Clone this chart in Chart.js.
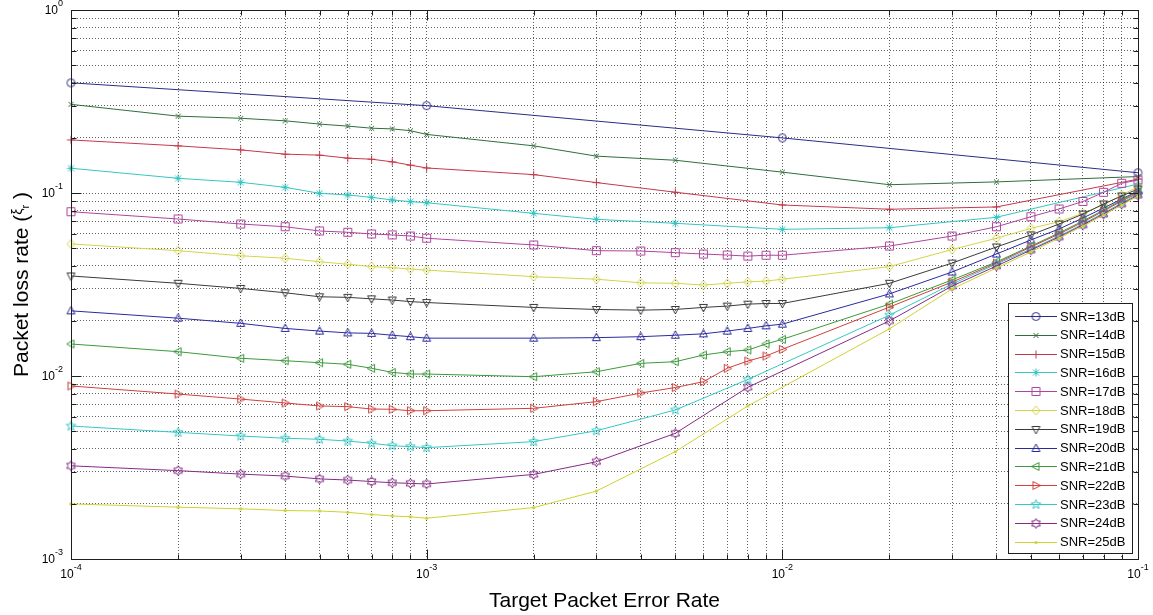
<!DOCTYPE html>
<html>
<head>
<meta charset="utf-8">
<script src="https://cdn.jsdelivr.net/npm/chart.js@4.4.1/dist/chart.umd.min.js"></script>
<style>
  html, body { margin: 0; padding: 0; background: #fff; }
  canvas { display: block; }
</style>
</head>
<body>
<canvas id="plr" width="1153" height="615"></canvas>
<script>
// Target packet error rate grids used by the simulated curves
const perSparse = [0.0001, 0.001, 0.01, 0.1];
const perMid = [0.0001, 0.0002, 0.0003, 0.0004, 0.0005, 0.0006, 0.0007, 0.0008, 0.0009, 0.001,
                0.002, 0.003, 0.005, 0.01, 0.02, 0.04, 0.1];
const perFull = [0.0001, 0.0002, 0.0003, 0.0004, 0.0005, 0.0006, 0.0007, 0.0008, 0.0009,
                 0.001, 0.002, 0.003, 0.004, 0.005, 0.006, 0.007, 0.008, 0.009,
                 0.01, 0.02, 0.03, 0.04, 0.05, 0.06, 0.07, 0.08, 0.09, 0.1];
const perHigh = [0.0001, 0.0002, 0.0003, 0.0004, 0.0005, 0.0006, 0.0007, 0.0008, 0.0009, 0.001,
                 0.002, 0.003, 0.005, 0.008, 0.02, 0.03, 0.04, 0.05, 0.06, 0.07, 0.08, 0.09, 0.1];

// Packet loss rate per SNR
const loss13 = [0.40, 0.30, 0.20, 0.129];
const loss14 = [0.305, 0.263, 0.256, 0.248, 0.238, 0.232, 0.226, 0.224, 0.219, 0.209,
                0.181, 0.159, 0.151, 0.130, 0.111, 0.115, 0.123];
const loss15 = [0.195, 0.181, 0.172, 0.163, 0.161, 0.155, 0.153, 0.148, 0.142, 0.137,
                0.126, 0.114, 0.101, 0.086, 0.0815, 0.0839, 0.119];
const loss16 = [0.1365, 0.1203, 0.1144, 0.1074, 0.0996, 0.0975, 0.0947, 0.0916, 0.0897, 0.0885,
                0.0774, 0.0718, 0.0683, 0.0633, 0.0646, 0.0737, 0.112];
const loss17 = [0.0790, 0.0721, 0.0677, 0.0654, 0.0620, 0.0610, 0.0597, 0.0590, 0.0582,
                0.0566, 0.0520, 0.0484, 0.0482, 0.0472, 0.0464, 0.0458, 0.0452, 0.0457,
                0.0457, 0.0513, 0.0582, 0.0654, 0.0742, 0.0818, 0.0899, 0.1009, 0.1130, 0.1178];
const loss18 = [0.0527, 0.0484, 0.0454, 0.0440, 0.0421, 0.0408, 0.0396, 0.0391, 0.0384,
                0.0379, 0.0349, 0.0338, 0.0323, 0.0321, 0.0314, 0.0321, 0.0327, 0.0330,
                0.0338, 0.0396, 0.0491, 0.0566, 0.0641, 0.0697, 0.0774, 0.0860, 0.0975, 0.1078];
const loss19 = [0.0352, 0.0321, 0.0301, 0.0285, 0.0271, 0.0269, 0.0264, 0.0260, 0.0255,
                0.0252, 0.0237, 0.0231, 0.0229, 0.0231, 0.0237, 0.0241, 0.0247, 0.0249,
                0.0249, 0.0321, 0.0414, 0.0507, 0.0590, 0.0677, 0.0767, 0.0871, 0.0963, 0.1052];
const loss20 = [0.0227, 0.0207, 0.0194, 0.0182, 0.0176, 0.0172, 0.0171, 0.0167, 0.0164,
                0.0161, 0.0161, 0.0162, 0.0164, 0.0167, 0.0170, 0.0176, 0.0182, 0.0188,
                0.0192, 0.0281, 0.0370, 0.0464, 0.0554, 0.0636, 0.0730, 0.0828, 0.0927, 0.1025];
const loss21 = [0.01496, 0.01358, 0.01250, 0.01212, 0.01182, 0.01159, 0.01102, 0.01047, 0.01025,
                0.01025, 0.00991, 0.01055, 0.01173, 0.01197, 0.01302, 0.01358, 0.01387, 0.01496,
                0.01586, 0.0247, 0.0335, 0.0420, 0.0513, 0.0605, 0.0703, 0.0807, 0.0916, 0.1013];
const loss22 = [0.00882, 0.00797, 0.00748, 0.00712, 0.00686, 0.00680, 0.00660, 0.00658, 0.00646,
                0.00646, 0.00666, 0.00724, 0.00807, 0.00865, 0.00931, 0.01102, 0.01208, 0.01286,
                0.01399, 0.0238, 0.0326, 0.0414, 0.0507, 0.0597, 0.0694, 0.0797, 0.0904, 0.1000];
const loss23 = [0.00533, 0.00492, 0.00470, 0.00457, 0.00451, 0.00441, 0.00429, 0.00416, 0.00411,
                0.00406, 0.00438, 0.00502, 0.00652, 0.00957,
                0.0215, 0.0318, 0.0409, 0.0494, 0.0582, 0.0677, 0.0777, 0.0882, 0.0988];
const loss24 = [0.00323, 0.00304, 0.00291, 0.00284, 0.00274, 0.00270, 0.00265, 0.00261, 0.00259,
                0.00257, 0.00290, 0.00340, 0.00486, 0.00868,
                0.0200, 0.0310, 0.0399, 0.0488, 0.0575, 0.0669, 0.0767, 0.0871, 0.0975];
const loss25 = [0.00200, 0.00192, 0.00188, 0.00184, 0.00183, 0.00180, 0.00175, 0.00172, 0.00170,
                0.00167, 0.00191, 0.00235, 0.00386, 0.00686,
                0.0181, 0.0299, 0.0389, 0.0476, 0.0568, 0.0660, 0.0758, 0.0860, 0.0963];

const snrLabels = ['SNR=13dB', 'SNR=14dB', 'SNR=15dB', 'SNR=16dB', 'SNR=17dB', 'SNR=18dB',
                   'SNR=19dB', 'SNR=20dB', 'SNR=21dB', 'SNR=22dB', 'SNR=23dB', 'SNR=24dB', 'SNR=25dB'];
const seriesPer = [perSparse, perMid, perMid, perMid, perFull, perFull, perFull,
                   perFull, perFull, perFull, perHigh, perHigh, perHigh];
const seriesLoss = [loss13, loss14, loss15, loss16, loss17, loss18, loss19,
                    loss20, loss21, loss22, loss23, loss24, loss25];

// Decade exponents for the axis labels
const xTickExponents = [-4, -3, -2, -1];
const yTickExponents = [-3, -2, -1, 0];

const xTitle = 'Target Packet Error Rate';
const yTitle = 'Packet loss rate (';

// Line colours and marker shapes, one per SNR
const lineColors = ['#2b2b88', '#2f6e3a', '#c23a4a', '#36c6c2', '#b0449e', '#d4d44a', '#3a3a3a',
                    '#2a2aa0', '#3c9a3c', '#d0403c', '#36c8c4', '#862a86', '#d0d032'];
const markerKinds = ['circle', 'x', 'plus', 'asterisk', 'square', 'diamond', 'triDown',
                     'triUp', 'triLeft', 'triRight', 'pentagram', 'hexagram', 'dot'];

const FONT = "'Liberation Sans', Arial, Helvetica, sans-serif";

function starPath(g, m, n, ro, ri) {
  for (let k = 0; k < 2 * n; k++) {
    const r = k % 2 === 0 ? ro : ri;
    const a = -Math.PI / 2 + k * Math.PI / n;
    const px = m + r * Math.cos(a), py = m + r * Math.sin(a);
    if (k === 0) g.moveTo(px, py); else g.lineTo(px, py);
  }
  g.closePath();
}

function makeMarker(kind, color) {
  const s = 15, m = 7.5;
  const c = document.createElement('canvas');
  c.width = s; c.height = s;
  const g = c.getContext('2d');
  g.strokeStyle = color; g.fillStyle = color; g.lineWidth = 1;
  g.beginPath();
  switch (kind) {
    case 'circle': g.arc(m, m, 4, 0, 2 * Math.PI); break;
    case 'x': g.moveTo(m - 2.5, m - 2.5); g.lineTo(m + 2.5, m + 2.5);
              g.moveTo(m + 2.5, m - 2.5); g.lineTo(m - 2.5, m + 2.5); break;
    case 'plus': g.moveTo(m - 4, m); g.lineTo(m + 4, m); g.moveTo(m, m - 4); g.lineTo(m, m + 4); break;
    case 'asterisk': g.moveTo(m - 4, m); g.lineTo(m + 4, m); g.moveTo(m, m - 4); g.lineTo(m, m + 4);
                     g.moveTo(m - 3, m - 3); g.lineTo(m + 3, m + 3);
                     g.moveTo(m + 3, m - 3); g.lineTo(m - 3, m + 3); break;
    case 'square': g.rect(m - 4, m - 4, 8, 8); break;
    case 'diamond': g.moveTo(m, m - 4.5); g.lineTo(m + 4, m); g.lineTo(m, m + 4.5); g.lineTo(m - 4, m); g.closePath(); break;
    case 'triUp': g.moveTo(m, m - 4.5); g.lineTo(m + 4, m + 3); g.lineTo(m - 4, m + 3); g.closePath(); break;
    case 'triDown': g.moveTo(m, m + 4.5); g.lineTo(m + 4, m - 3); g.lineTo(m - 4, m - 3); g.closePath(); break;
    case 'triLeft': g.moveTo(m - 4.5, m); g.lineTo(m + 3, m - 4); g.lineTo(m + 3, m + 4); g.closePath(); break;
    case 'triRight': g.moveTo(m + 4.5, m); g.lineTo(m - 3, m - 4); g.lineTo(m - 3, m + 4); g.closePath(); break;
    case 'pentagram': starPath(g, m, 5, 5, 2.1); break;
    case 'hexagram': starPath(g, m, 6, 5, 2.9); break;
    case 'dot': g.arc(m, m, 1.6, 0, 2 * Math.PI); g.fill(); return c;
  }
  g.stroke();
  return c;
}

const markers = markerKinds.map((k, i) => makeMarker(k, lineColors[i]));

function decadeTicks(exps) {
  const out = [];
  for (let i = 0; i < exps.length - 1; i++) {
    for (let k = 1; k <= 9; k++) out.push({ value: Number((k * Math.pow(10, exps[i])).toPrecision(6)) });
  }
  out.push({ value: Math.pow(10, exps[exps.length - 1]) });
  return out;
}

function isDecade(v) {
  const l = Math.log10(v);
  return Math.abs(l - Math.round(l)) < 1e-9;
}

function drawPower(ctx, exp, x, y, align) {
  const baseFont = '12px ' + FONT, supFont = '9px ' + FONT;
  const sup = String(exp);
  ctx.font = baseFont; const wb = ctx.measureText('10').width;
  ctx.font = supFont; const ws = ctx.measureText(sup).width;
  const left = align === 'center' ? x - (wb + ws) / 2 : x - (wb + ws);
  ctx.textAlign = 'left'; ctx.textBaseline = 'middle'; ctx.fillStyle = '#000';
  ctx.font = baseFont; ctx.fillText('10', left, y);
  ctx.font = supFont; ctx.fillText(sup, left + wb, y - 7);
}

const matlabAxes = {
  id: 'matlabAxes',
  afterDraw(chart) {
    const ctx = chart.ctx;
    const xs = chart.scales.x, ys = chart.scales.y;
    const { left, right, top, bottom } = chart.chartArea;
    const L = Math.round(left) + 0.5, R = Math.round(right) + 0.5;
    const T = Math.round(top) + 0.5, B = Math.round(bottom) + 0.5;
    ctx.save();
    ctx.strokeStyle = '#1e1e1e'; ctx.lineWidth = 1;
    ctx.beginPath();
    xs.ticks.forEach(t => {
      const p = Math.round(xs.getPixelForValue(t.value)) + 0.5;
      const len = isDecade(t.value) ? 10 : 5;
      ctx.moveTo(p, B); ctx.lineTo(p, B - len);
      ctx.moveTo(p, T); ctx.lineTo(p, T + len);
    });
    ys.ticks.forEach(t => {
      const p = Math.round(ys.getPixelForValue(t.value)) + 0.5;
      const len = isDecade(t.value) ? 10 : 5;
      ctx.moveTo(L, p); ctx.lineTo(L + len, p);
      ctx.moveTo(R, p); ctx.lineTo(R - len, p);
    });
    ctx.stroke();
    ctx.strokeRect(L, T, R - L, B - T);

    // decade labels
    xTickExponents.forEach(e => drawPower(ctx, e, xs.getPixelForValue(Math.pow(10, e)), 575, 'center'));
    yTickExponents.forEach(e => drawPower(ctx, e, 63, ys.getPixelForValue(Math.pow(10, e)) + 1, 'right'));

    // axis titles
    ctx.fillStyle = '#000';
    ctx.font = '21px ' + FONT; ctx.textAlign = 'center'; ctx.textBaseline = 'middle';
    ctx.fillText(xTitle, (left + right) / 2, 601);

    ctx.save();
    ctx.translate(22, (top + bottom) / 2);
    ctx.rotate(-Math.PI / 2);
    const big = '21px ' + FONT, greek = '14px ' + FONT, sub = '11px ' + FONT;
    ctx.font = big; const w1 = ctx.measureText(yTitle).width; const w4 = ctx.measureText(' )').width;
    ctx.font = greek; const w2 = ctx.measureText('ξ').width;
    ctx.font = sub; const w3 = ctx.measureText('r').width;
    let x0 = -(w1 + w2 + w3 + w4) / 2;
    ctx.textAlign = 'left'; ctx.textBaseline = 'middle';
    ctx.font = big; ctx.fillText(yTitle, x0, 0); x0 += w1;
    ctx.font = greek; ctx.fillText('ξ', x0, -4); x0 += w2;
    ctx.font = sub; ctx.fillText('r', x0, 4); x0 += w3;
    ctx.font = big; ctx.fillText(' )', x0, 0);
    ctx.restore();

    // legend box
    const bx = 1008.5, by = 303.5, bw = 124, bh = 250;
    ctx.fillStyle = '#fff';
    ctx.fillRect(bx, by, bw, bh);
    ctx.strokeStyle = '#1e1e1e';
    ctx.strokeRect(bx, by, bw, bh);
    ctx.font = '13px ' + FONT; ctx.textAlign = 'left'; ctx.textBaseline = 'middle';
    chart.data.datasets.forEach((ds, i) => {
      const yy = 316 + 18.8 * i;
      const yl = Math.round(yy) + 0.5;
      ctx.strokeStyle = ds.borderColor; ctx.lineWidth = 1;
      ctx.beginPath(); ctx.moveTo(1015, yl); ctx.lineTo(1057, yl); ctx.stroke();
      const mk = ds.pointStyle;
      ctx.drawImage(mk, 1036 - mk.width / 2, yl - mk.height / 2);
      ctx.fillStyle = '#000';
      ctx.fillText(ds.label, 1060, yy + 1);
    });
    ctx.restore();
  }
};

const datasets = snrLabels.map((label, i) => ({
  label,
  data: seriesPer[i].map((p, j) => ({ x: p, y: seriesLoss[i][j] })),
  borderColor: lineColors[i],
  backgroundColor: lineColors[i],
  borderWidth: 1,
  pointStyle: markers[i],
  pointRadius: 5,
  pointHoverRadius: 5,
  tension: 0,
  fill: false,
  clip: false,
  order: snrLabels.length - i
}));

const gridStyle = { color: 'rgba(0,0,0,0.62)', lineWidth: 1, drawTicks: false };
const borderStyle = { display: false, dash: [1, 2] };

new Chart(document.getElementById('plr'), {
  type: 'line',
  data: { datasets },
  options: {
    responsive: false,
    animation: false,
    devicePixelRatio: 1,
    layout: { padding: { left: 0, right: 15, top: 10, bottom: 0 } },
    plugins: { legend: { display: false }, tooltip: { enabled: false } },
    events: [],
    scales: {
      x: {
        type: 'logarithmic',
        min: 0.0001, max: 0.1,
        grid: gridStyle, border: borderStyle,
        ticks: { display: false, autoSkip: false },
        afterBuildTicks: s => { s.ticks = decadeTicks(xTickExponents); },
        afterFit: s => { s.height = 56; }
      },
      y: {
        type: 'logarithmic',
        min: 0.001, max: 1,
        grid: gridStyle, border: borderStyle,
        ticks: { display: false, autoSkip: false },
        afterBuildTicks: s => { s.ticks = decadeTicks(yTickExponents); },
        afterFit: s => { s.width = 71; }
      }
    }
  },
  plugins: [matlabAxes]
});
</script>
</body>
</html>
